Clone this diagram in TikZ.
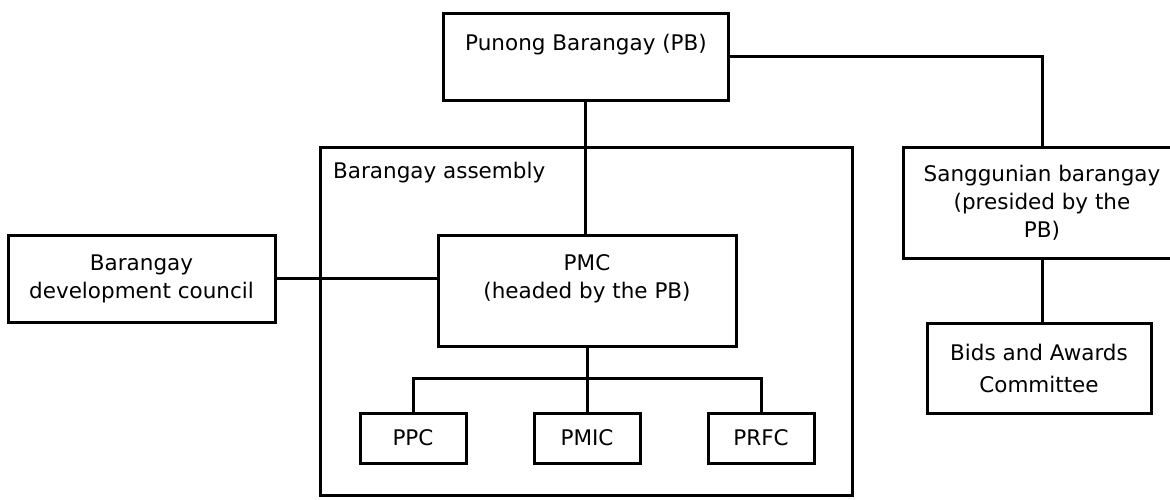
\documentclass[tikz,border=0pt]{standalone}
\usepackage{fontspec}
\setmainfont{DejaVu Sans}
\usetikzlibrary{positioning}

\begin{document}
\begin{tikzpicture}[
    x=1pt, y=-1pt,
    node distance=65pt and 65pt,
    font=\fontsize{21.5}{28}\selectfont,
    box/.style={draw, line width=3pt, inner sep=0pt, align=center},
    txt/.style={inner sep=0pt, align=center},
    link/.style={line width=3pt}
]
\useasboundingbox (0,0) rectangle (1170,499);
\clip (0,0) rectangle (1170,499);

% Nodes
\node[box, minimum width=532pt, minimum height=348pt] (BA) at (586,321) {};
\node[txt, anchor=base west] (BAtext) at (333,178) {Barangay assembly};

\node[box, minimum width=285pt, minimum height=87pt] (PB) at (585.5,56.5) {};
\node[txt, anchor=base] (PBtext) at (586,50) {Punong Barangay (PB)};

\node[box, minimum width=298pt, minimum height=111pt] (PMC) at (587,290.5) {};
\node[txt, anchor=north] (PMCtext) at (587,254) {PMC\\(headed by the PB)};

\node[box, minimum width=267pt, minimum height=87pt] (BDC) at (141.5,278.5) {Barangay\\development council};

\node[box, minimum width=106pt, minimum height=50pt, below=64pt of PMC] (PMIC) {PMIC};
\node[box, minimum width=106pt, minimum height=50pt, left=of PMIC] (PPC) {PPC};
\node[box, minimum width=106pt, minimum height=50pt, right=of PMIC] (PRFC) {PRFC};

\node[box, minimum width=278pt, minimum height=111pt] (SB) at (1042,202.5) {Sanggunian barangay\\(presided by the\\PB)};
\node[box, minimum width=224pt, minimum height=90pt] (BAC) at (1039,368) {Bids and Awards\\[4pt]Committee};

% Lines
\draw[link] (PB.south) -- (PB.south |- PMC.north);
\draw[link] (PB.east) -| (SB.north);
\draw[link] (BDC.east) -- (BDC.east -| PMC.west);
\draw[link] (PMC.south) -- (PMIC.north);
\draw[link] (PPC.north) -- ++(0,-33) -| (PRFC.north);
\draw[link] (SB.south) -- (SB.south |- BAC.north);

\end{tikzpicture}
\end{document}
